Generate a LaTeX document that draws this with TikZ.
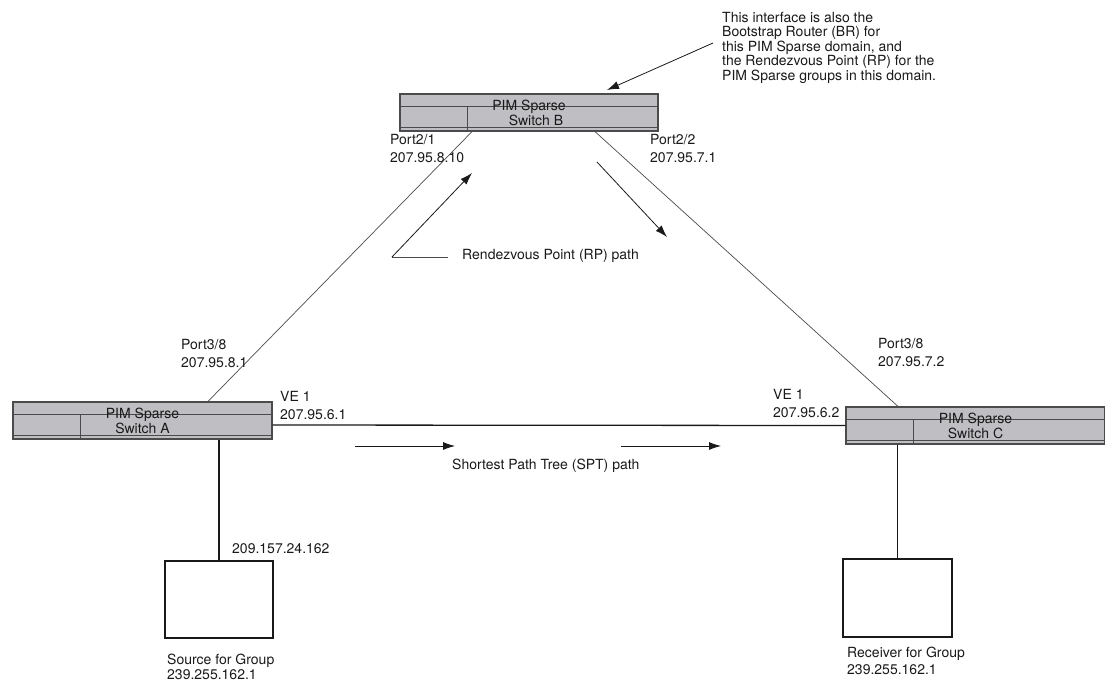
\documentclass[tikz,border=0pt]{standalone}
\usepackage{fontspec}
\setmainfont{TeX Gyre Heros}
\usepackage{tikz}
\usetikzlibrary{arrows.meta}
\usetikzlibrary{positioning,shapes}
\definecolor{swgray}{RGB}{191,191,195}
\definecolor{linegray}{RGB}{75,75,75}
\definecolor{textgray}{RGB}{25,25,25}
\tikzset{
    switchbox/.style={rectangle,draw=linegray,fill=swgray,line width=1.2pt,inner sep=0pt,
        minimum width=259pt,minimum height=37pt,align=center,text=textgray,
        font=\fontsize{14}{15}\selectfont,
        path picture={
            \draw[linegray,line width=1pt] ([yshift=-12pt]path picture bounding box.north west) -- ([yshift=-12pt]path picture bounding box.north east);
            \draw[linegray,line width=1pt] ([yshift=4pt]path picture bounding box.south west) -- ([yshift=4pt]path picture bounding box.south east);
            \draw[linegray,line width=1pt] ([xshift=67pt,yshift=-12pt]path picture bounding box.north west) -- ([xshift=67pt]path picture bounding box.south west);
        }},
    hostbox/.style={rectangle,draw=textgray,line width=1.3pt,inner sep=0pt,minimum width=108pt,minimum height=77pt},
    mylabel/.style={anchor=base west,inner sep=0pt,align=left,text=textgray,font=\fontsize{14}{17.5}\selectfont},
    mylink/.style={draw=linegray,line width=0.7pt},
    mywire/.style={draw=textgray,line width=1.3pt},
    myarrow/.style={-{Latex[length=12pt,width=8pt]}, draw=textgray, line width=0.8pt}
}
\begin{document}
\begin{tikzpicture}[x=1pt,y=-1pt]
    \useasboundingbox (0,0) rectangle (1105,681);
    \node[switchbox, minimum width=258pt] (swB) at (529,112.5) {PIM Sparse\\Switch B\hspace*{-14pt}};
    \node[switchbox] (swA) at (142.5,420.5) {PIM Sparse\\Switch A};
    \node[switchbox] (swC) at (975.5,425.5) {PIM Sparse\\Switch C};
    \node[hostbox] (src) at (219,599.5) {};
    \node[hostbox, minimum width=109pt, minimum height=78pt] (rcv) at (897.5,598) {};
    % links
    \draw[mylink] ([xshift=-57pt]swB.south) -- ([xshift=65.5pt]swA.north);
    \draw[mylink] ([xshift=66pt]swB.south) -- ([xshift=-77.5pt]swC.north);
    \draw[mywire] ([yshift=-4.5pt]swA.east) -- (swC.west);
    \draw[mywire] (src.north) -- (src.north |- swA.south);
    \draw[mywire] (rcv.north) -- (rcv.north |- swC.south);
    % port labels (anchored at last line)
    \node[mylabel] (p21) at (390,162) {Port2/1\\207.95.8.10};
    \node[mylabel] (p22) at (650,162) {Port2/2\\207.95.7.1};
    \node[mylabel] (p38a) at (181,367) {Port3/8\\207.95.8.1};
    \node[mylabel] (p38c) at (878,366) {Port3/8\\207.95.7.2};
    \node[mylabel] (vea) at (280,419) {VE 1\\207.95.6.1};
    \node[mylabel] (vec) at (773,417) {VE 1\\207.95.6.2};
    \node[mylabel] (srcip) at (232,553) {209.157.24.162};
    \node[mylabel, font=\fontsize{14}{15}\selectfont] (srclbl) at (167,679) {Source for Group\\239.255.162.1};
    \node[mylabel, font=\fontsize{14}{17}\selectfont] (rcvlbl) at (847,674) {Receiver for Group\\239.255.162.1};
    % paths
    \coordinate (rp0) at (392,257);
    \draw[mylink] (rp0) -- (448,257);
    \draw[myarrow] (rp0) -- (472,173);
    \draw[myarrow] (597,162) -- (667,237);
    \node[mylabel] (rplbl) at (462,259) {Rendezvous Point (RP) path};
    \draw[myarrow] (355,446) -- (455,446);
    \draw[myarrow] (621,446) -- (721,446);
    \node[mylabel] (sptlbl) at (452,469) {Shortest Path Tree (SPT) path};
    % note on the BR / RP interface
    \node[mylabel, font=\fontsize{14}{14.5}\selectfont] (note) at (722,80) {This interface is also the\\Bootstrap Router (BR) for\\this PIM Sparse domain, and\\the Rendezvous Point (RP) for the\\PIM Sparse groups in this domain.};
    \coordinate (notept) at (713,43);
    \draw[myarrow] (notept) -- (607,90);
\end{tikzpicture}
\end{document}
